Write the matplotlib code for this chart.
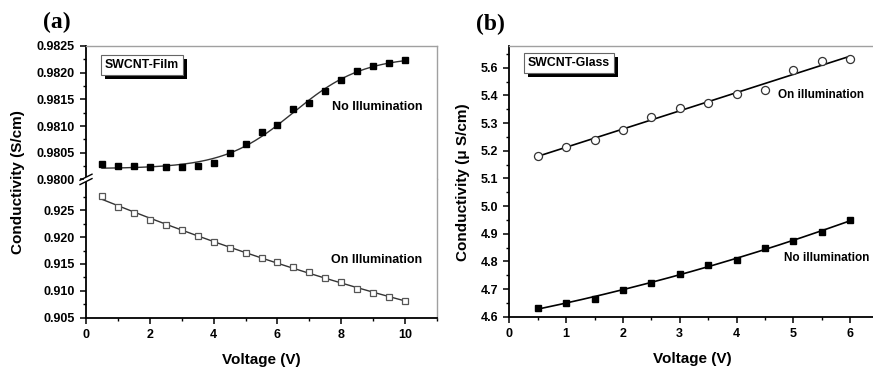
import numpy as np
import matplotlib
matplotlib.use("Agg")
import matplotlib.pyplot as plt
from matplotlib.ticker import MultipleLocator, FixedLocator, FormatStrFormatter

plt.rcParams['font.family'] = ['Liberation Sans', 'DejaVu Sans']
plt.rcParams['font.weight'] = 'bold'

# ---- (a) SWCNT film ----
film_voltage = [0.5, 1.0, 1.5, 2.0, 2.5, 3.0, 3.5, 4.0, 4.5, 5.0,
                5.5, 6.0, 6.5, 7.0, 7.5, 8.0, 8.5, 9.0, 9.5, 10.0]
film_dark = [0.98029, 0.98025, 0.98025, 0.98023, 0.98024, 0.98023, 0.98025,
             0.98031, 0.98049, 0.98066, 0.98088, 0.98102, 0.98131, 0.98144,
             0.98166, 0.98186, 0.98203, 0.98213, 0.98219, 0.98223]
film_light = [0.92766, 0.92567, 0.92455, 0.92319, 0.92226, 0.92128, 0.92021,
              0.91915, 0.91798, 0.91710, 0.91617, 0.91537, 0.91439, 0.91345,
              0.91245, 0.91165, 0.91034, 0.90960, 0.90885, 0.90811]

# ---- (b) SWCNT on glass ----
glass_voltage = [0.5, 1.0, 1.5, 2.0, 2.5, 3.0, 3.5, 4.0, 4.5, 5.0, 5.5, 6.0]
glass_light = [5.180, 5.215, 5.240, 5.276, 5.321, 5.353, 5.373, 5.405,
               5.419, 5.494, 5.523, 5.533]
glass_dark = [4.633, 4.649, 4.663, 4.697, 4.723, 4.756, 4.788, 4.805,
              4.849, 4.874, 4.908, 4.948]
glass_ytick_values = [4.6, 4.7, 4.8, 4.9, 5.0, 5.1, 5.2, 5.3, 5.4, 5.5]
glass_ytick_labels = ['4.6', '4.7', '4.8', '4.9', '5.0', '5.1', '5.2', '5.3', '5.4', '5.6']

GRAY = '#a0a0a0'
TICK_FS = 9
LABEL_FS = 11


def boltzmann_fit(x, y):
    """Least-squares Boltzmann sigmoid, grid over (x0, dx), linear in the plateaus."""
    x = np.asarray(x)
    y = np.asarray(y)
    x0s = np.linspace(4.0, 9.0, 251)[:, None, None]
    dxs = np.linspace(0.3, 2.5, 221)[None, :, None]
    f = 1.0 / (1.0 + np.exp((x[None, None, :] - x0s) / dxs))
    fm = f.mean(axis=2, keepdims=True)
    ym = y.mean()
    b = ((f - fm) * (y - ym)).sum(axis=2, keepdims=True) / ((f - fm) ** 2).sum(axis=2, keepdims=True)
    a = ym - b * fm
    res = ((a + b * f - y) ** 2).sum(axis=2)
    i, j = np.unravel_index(np.argmin(res), res.shape)
    x0, dx = x0s[i, 0, 0], dxs[0, j, 0]
    aa, bb = a[i, j, 0], b[i, j, 0]
    return lambda t: aa + bb / (1.0 + np.exp((t - x0) / dx))


def style_axis(ax, gray_sides):
    for side in ['left', 'bottom']:
        ax.spines[side].set_color('black')
        ax.spines[side].set_linewidth(1.3)
    for side in gray_sides:
        ax.spines[side].set_color(GRAY)
        ax.spines[side].set_linewidth(1.0)
    ax.tick_params(which='major', direction='out', length=4.5, width=1.1,
                   labelsize=TICK_FS, colors='black')
    ax.tick_params(which='minor', direction='out', length=2.5, width=1.0)
    ax.tick_params(top=False, right=False, which='both')
    for lab in ax.get_xticklabels() + ax.get_yticklabels():
        lab.set_fontweight('bold')


caption_boxes = []


def caption(ax, x, y, text):
    t = ax.text(x, y, text, transform=ax.transAxes, ha='center', va='center',
                fontsize=8.8, fontweight='bold', zorder=7,
                bbox=dict(boxstyle='square,pad=0.32', fc='white', ec='#666666', lw=0.8))
    caption_boxes.append((ax, t))


def add_drop_shadows(fig, dx_px=4, dy_px=4):
    """Solid black rectangle behind each caption box, shifted to the lower right."""
    fig.canvas.draw()
    renderer = fig.canvas.get_renderer()
    W, H = fig.bbox.width, fig.bbox.height
    for ax, t in caption_boxes:
        ext = t.get_bbox_patch().get_window_extent(renderer)
        rect = plt.Rectangle(((ext.x0 + dx_px) / W, (ext.y0 - dy_px) / H),
                             ext.width / W, ext.height / H,
                             transform=fig.transFigure, fc='black', ec='none',
                             zorder=6, clip_on=False)
        ax.add_patch(rect)


fig = plt.figure(figsize=(8.73, 3.68), dpi=100)

# panel (a): broken y axis made of two stacked axes
left_a, width_a = 86 / 873, 351 / 873
ax_top = fig.add_axes([left_a, 1 - 179.4 / 368, width_a, (179.4 - 46) / 368])
ax_bot = fig.add_axes([left_a, 1 - 317.7 / 368, width_a, (317.7 - 179.4) / 368])

xs = np.linspace(film_voltage[0], film_voltage[-1], 300)
dark_curve = boltzmann_fit(film_voltage, film_dark)
ax_top.plot(xs, dark_curve(xs), color='#333333', lw=1.0, zorder=2)
ax_top.plot(film_voltage, film_dark, 's', color='black', ms=4.3, zorder=3)

light_coef = np.polyfit(film_voltage, film_light, 2)
ax_bot.plot(xs, np.polyval(light_coef, xs), color='#333333', lw=1.0, zorder=2)
ax_bot.plot(film_voltage, film_light, 's', mfc='white', mec='#555555', mew=0.9,
            ms=4.6, zorder=3)

for ax in (ax_top, ax_bot):
    ax.set_xlim(0, 11)
    ax.xaxis.set_major_locator(MultipleLocator(2))
    ax.xaxis.set_minor_locator(MultipleLocator(1))

ax_top.set_ylim(0.9800, 0.9825)
ax_top.yaxis.set_major_locator(MultipleLocator(0.0005))
ax_top.yaxis.set_minor_locator(MultipleLocator(0.00025))
ax_top.yaxis.set_major_formatter(FormatStrFormatter('%.4f'))
ax_top.tick_params(axis='x', which='both', bottom=False, labelbottom=False)

ax_bot.set_ylim(0.905, 0.93075)
ax_bot.yaxis.set_major_locator(FixedLocator([0.905, 0.910, 0.915, 0.920, 0.925]))
ax_bot.yaxis.set_minor_locator(FixedLocator([0.9075, 0.9125, 0.9175, 0.9225, 0.9275]))
ax_bot.yaxis.set_major_formatter(FormatStrFormatter('%.3f'))

style_axis(ax_top, ['top', 'right'])
style_axis(ax_bot, ['right'])
ax_top.spines['bottom'].set_visible(False)
ax_bot.spines['top'].set_visible(False)

ax_bot.set_xlabel('Voltage (V)', fontsize=LABEL_FS, fontweight='bold', labelpad=9)
fig.text(18 / 873, 1 - 182 / 368, 'Conductivity (S/cm)', rotation=90,
         ha='center', va='center', fontsize=LABEL_FS, fontweight='bold')

# break marks on the left spine
bx = 86 / 873
by = 1 - 179.4 / 368
fig.patches.append(plt.Rectangle((bx - 2.5 / 873, by - 2.5 / 368), 5 / 873, 5 / 368,
                                 transform=fig.transFigure, fc='white', ec='none', zorder=5))
for dy in (-2.2, 2.2):
    fig.add_artist(plt.Line2D([bx - 6 / 873, bx + 6 / 873],
                              [by + (dy - 3) / 368, by + (dy + 3) / 368],
                              transform=fig.transFigure, color='black', lw=1.0, zorder=6))

ax_top.text(7.72, 0.98136, 'No Illumination', fontsize=9, fontweight='bold',
            ha='left', va='center')
ax_bot.text(7.68, 0.91575, 'On Illumination', fontsize=9, fontweight='bold',
            ha='left', va='center')
caption(ax_top, 0.16, 0.857, 'SWCNT-Film')

fig.text(57 / 873, 1 - 22 / 368, '(a)', family=['Liberation Serif', 'DejaVu Serif'],
         fontsize=17, fontweight='bold', ha='center', va='center')

# panel (b)
ax_b = fig.add_axes([509.3 / 873, 1 - 316.7 / 368, 0.42, (316.7 - 46) / 368])
gx = np.linspace(glass_voltage[0], glass_voltage[-1], 200)
lin = np.polyfit(glass_voltage, glass_light, 1)
quad = np.polyfit(glass_voltage, glass_dark, 2)
ax_b.plot(gx, np.polyval(lin, gx), color='black', lw=1.2, zorder=2)
ax_b.plot(gx, np.polyval(quad, gx), color='black', lw=1.2, zorder=2)
ax_b.plot(glass_voltage, glass_light, 'o', mfc='white', mec='#333333', mew=0.9,
          ms=5.8, zorder=3)
ax_b.plot(glass_voltage, glass_dark, 's', color='black', ms=5.0, zorder=3)

ax_b.set_xlim(0, 0.42 * 873 / 56.8)
ax_b.set_ylim(4.6, 5.579)
ax_b.xaxis.set_major_locator(MultipleLocator(1))
ax_b.xaxis.set_minor_locator(MultipleLocator(0.5))
ax_b.yaxis.set_major_locator(FixedLocator(glass_ytick_values))
ax_b.yaxis.set_minor_locator(MultipleLocator(0.05))
ax_b.set_yticklabels(glass_ytick_labels)
style_axis(ax_b, ['top', 'right'])

ax_b.set_xlabel('Voltage (V)', fontsize=LABEL_FS, fontweight='bold', labelpad=9)
fig.text(463 / 873, 1 - 182 / 368, 'Conductivity (\u03bc S/cm)', rotation=90,
         ha='center', va='center', fontsize=LABEL_FS, fontweight='bold')

ax_b.text(4.73, 5.40, 'On illumination', fontsize=8.5, fontweight='bold',
          ha='left', va='center')
ax_b.text(4.84, 4.813, 'No illumination', fontsize=8.5, fontweight='bold',
          ha='left', va='center')
caption(ax_b, 0.163, 0.937, 'SWCNT-Glass')

fig.text(490 / 873, 1 - 24 / 368, '(b)', family=['Liberation Serif', 'DejaVu Serif'],
         fontsize=17, fontweight='bold', ha='center', va='center')

add_drop_shadows(fig)
fig.savefig('out.png', dpi=100)
